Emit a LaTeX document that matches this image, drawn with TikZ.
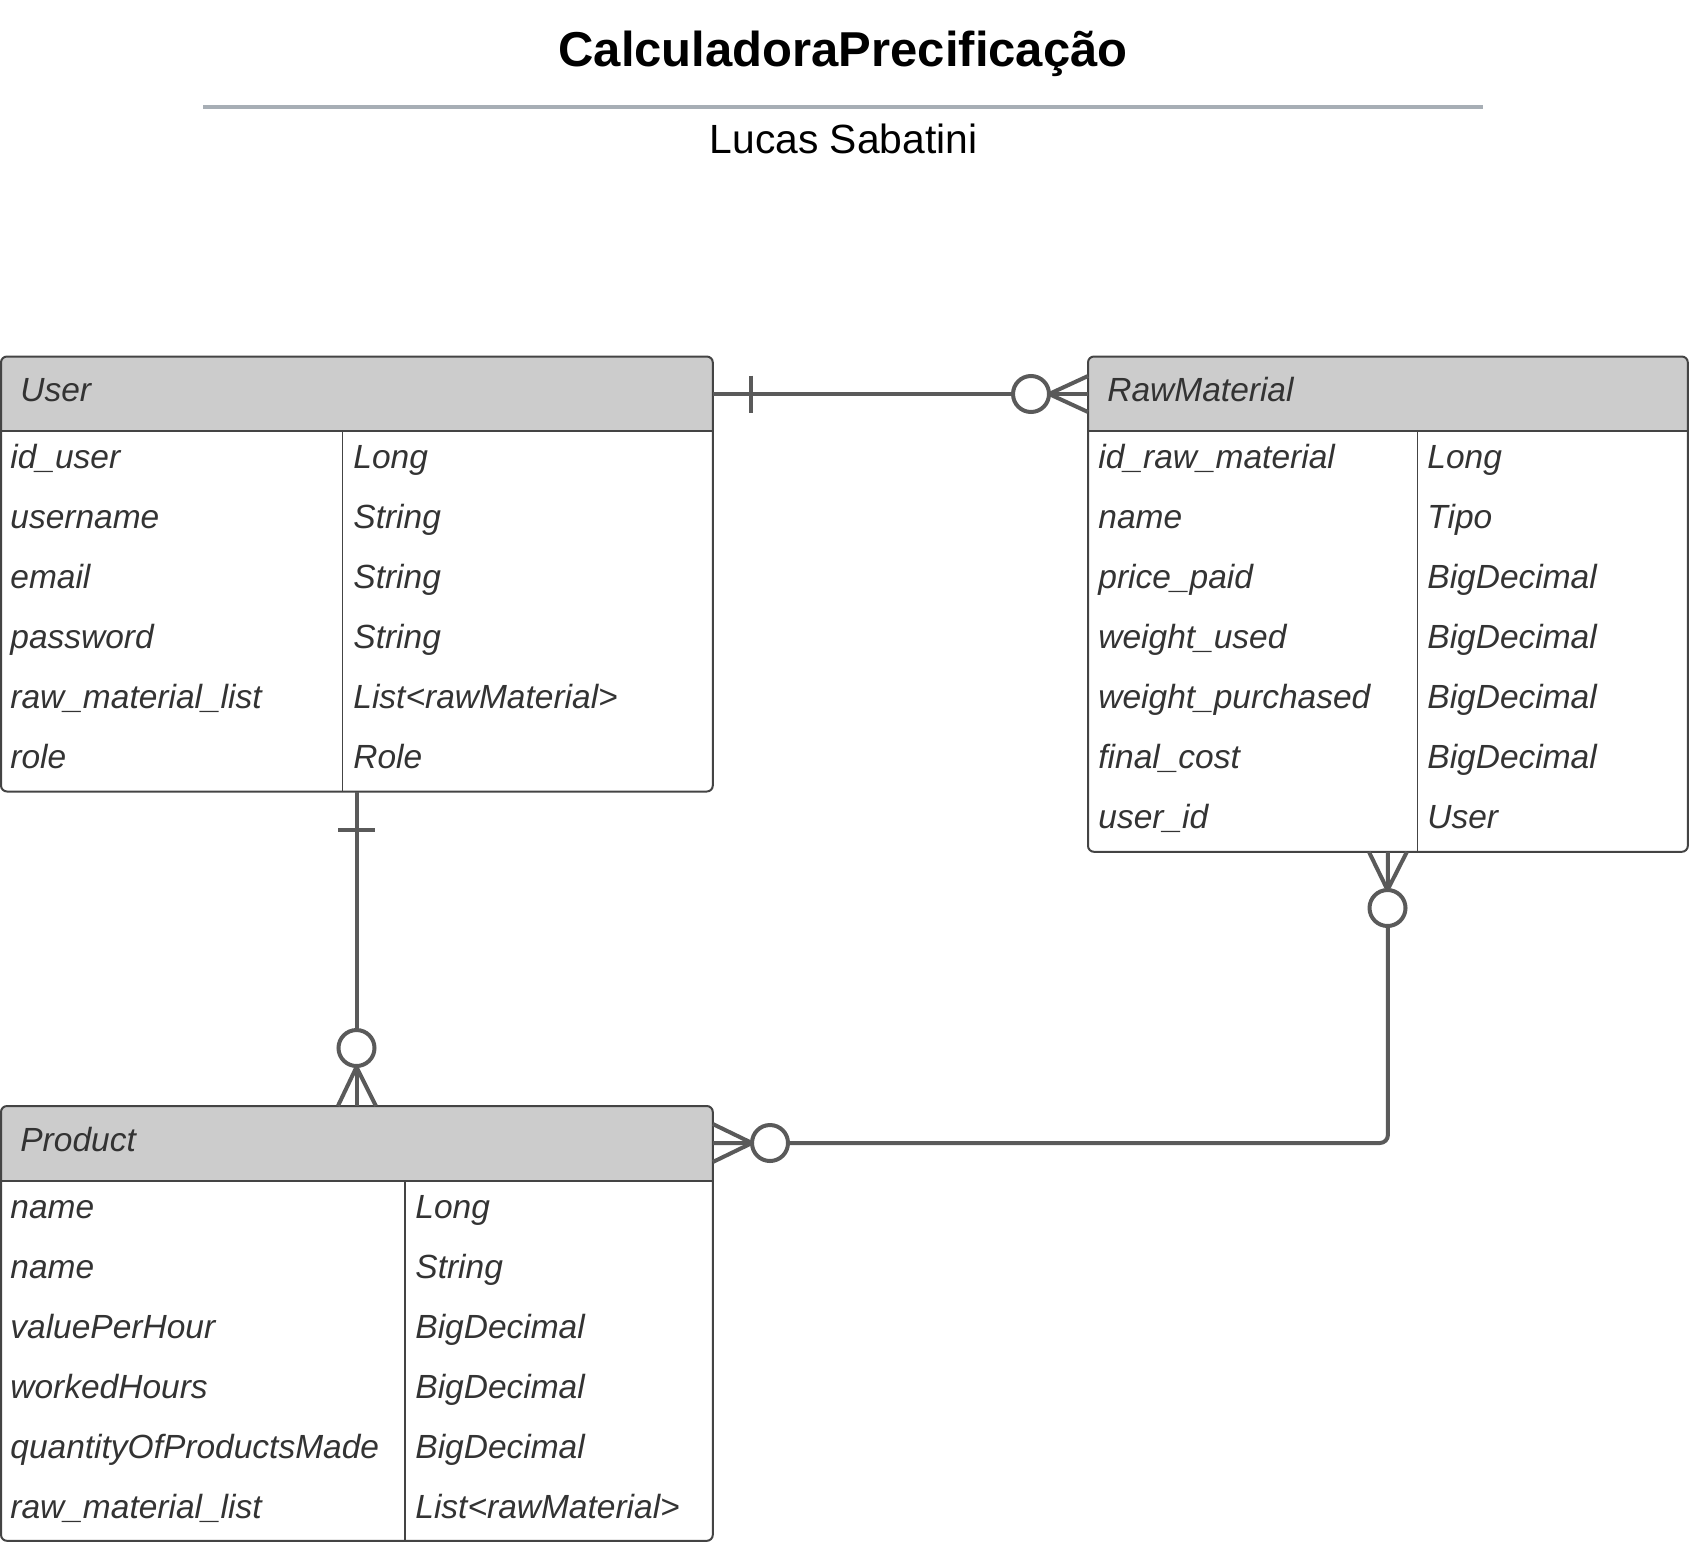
\documentclass[tikz,border=0pt]{standalone}
\usepackage{fontspec}
\setmainfont{Liberation Sans}
\usetikzlibrary{calc}
\definecolor{connc}{HTML}{5A5A5A}
\definecolor{hdrc}{HTML}{CCCCCC}
\definecolor{txtc}{HTML}{333333}
\definecolor{bordc}{HTML}{444444}
\definecolor{rulec}{HTML}{A7AEB5}
\begin{document}
\begin{tikzpicture}[x=0.5pt,y=-0.5pt,
  tblbox/.style={rectangle, inner sep=0pt, anchor=north west, draw=none},
  border/.style={draw=bordc, line width=1pt, rounded corners=3pt},
  sepline/.style={draw=bordc, line width=1pt},
  divline/.style={draw=bordc, line width=0.75pt},
  fld/.style={anchor=base west, inner sep=0pt, text=txtc, font=\fontsize{16.75pt}{20pt}\selectfont\itshape},
  cn/.style={draw=connc, line width=2pt, line join=round},
  endc/.style={draw=connc, line width=2pt, fill=white},
  titlestyle/.style={anchor=base, inner sep=0pt, font=\fontsize{24.5pt}{29pt}\selectfont\bfseries},
  substyle/.style={anchor=base, inner sep=0pt, font=\fontsize{20.4pt}{24pt}\selectfont}
]
\useasboundingbox (0,0) rectangle (1689,1541);

% title block
\node[titlestyle] (title) at (843,67) {CalculadoraPrecificação};
\draw[draw=rulec, line width=1.5pt] (203,107) -- (1483,107);
\node[substyle] (author) at (843.5,153.5) {Lucas Sabatini};

% ---------- User table ----------
\node[tblbox, minimum width=355.5pt, minimum height=217.1pt] (user) at (1,356.5) {};
\fill[hdrc, rounded corners=3pt] (user.north west) rectangle ($(user.north east)+(0,74.5)$);
\fill[hdrc] ($(user.north west)+(0,20)$) rectangle ($(user.north east)+(0,74.5)$);
\draw[sepline] ($(user.north west)+(0,74.5)$) -- ($(user.north east)+(0,74.5)$);
\draw[divline] (342.5,431) -- (342.5,0 |- user.south);
\draw[border] (user.north west) rectangle (user.south east);
\node[fld] (userh) at (20,401) {User};
\foreach \a/\b [count=\i from 0] in {id\_user/Long, username/String, email/String, password/String, raw\_material\_list/List<rawMaterial>, role/Role}{
  \node[fld] (ua\i) at (10,{468.5+60*\i}) {\a};
  \node[fld] (ub\i) at (353,{468.5+60*\i}) {\b};
}

% ---------- RawMaterial table ----------
\node[tblbox, minimum width=299.5pt, minimum height=247.25pt] (raw) at (1088,356.5) {};
\fill[hdrc, rounded corners=3pt] (raw.north west) rectangle ($(raw.north east)+(0,74.5)$);
\fill[hdrc] ($(raw.north west)+(0,20)$) rectangle ($(raw.north east)+(0,74.5)$);
\draw[sepline] ($(raw.north west)+(0,74.5)$) -- ($(raw.north east)+(0,74.5)$);
\draw[divline] (1417.6,431) -- (1417.6,0 |- raw.south);
\draw[border] (raw.north west) rectangle (raw.south east);
\node[fld] (rawh) at (1107,401) {RawMaterial};
\foreach \a/\b [count=\i from 0] in {id\_raw\_material/Long, name/Tipo, price\_paid/BigDecimal, weight\_used/BigDecimal, weight\_purchased/BigDecimal, final\_cost/BigDecimal, user\_id/User}{
  \node[fld] (ra\i) at (1098,{468.5+60*\i}) {\a};
  \node[fld] (rb\i) at (1427,{468.5+60*\i}) {\b};
}

% ---------- Product table ----------
\node[tblbox, minimum width=355.5pt, minimum height=217pt] (product) at (1,1106) {};
\fill[hdrc, rounded corners=3pt] (product.north west) rectangle ($(product.north east)+(0,74.5)$);
\fill[hdrc] ($(product.north west)+(0,20)$) rectangle ($(product.north east)+(0,74.5)$);
\draw[sepline] ($(product.north west)+(0,74.5)$) -- ($(product.north east)+(0,74.5)$);
\draw[divline] (405,1180.5) -- (405,0 |- product.south);
\draw[border] (product.north west) rectangle (product.south east);
\node[fld] (producth) at (20,1151) {Product};
\foreach \a/\b [count=\i from 0] in {name/Long, name/String, valuePerHour/BigDecimal, workedHours/BigDecimal, quantityOfProductsMade/BigDecimal, raw\_material\_list/List<rawMaterial>}{
  \node[fld] (pa\i) at (10,{1218+60*\i}) {\a};
  \node[fld] (pb\i) at (415,{1218+60*\i}) {\b};
}

% ---------- Connector User -- RawMaterial ----------
\coordinate (c1s) at (user.east |- 0,394);
\coordinate (c1e) at (raw.west |- 0,394);
\draw[cn] (c1s) -- (c1e);
\draw[cn] (751,375.5) -- (751,412.5);
\draw[endc] (1031,394) circle[radius=9pt];
\draw[cn] ($(c1e)+(0,-18)$) -- (1049,394) -- ($(c1e)+(0,18)$);

% ---------- Connector User -- Product ----------
\draw[cn] (user.south) -- (product.north);
\draw[cn] (338,829.5) -- (375,829.5);
\draw[endc] (356.5,1048) circle[radius=9pt];
\draw[cn] ($(product.north)+(-19,0)$) -- (356.5,1067) -- ($(product.north)+(19,0)$);

% ---------- Connector RawMaterial -- Product ----------
\coordinate (c3e) at (product.east |- 0,1143);
\draw[cn, rounded corners=4pt] (raw.south) |- (c3e);
\draw[cn] ($(raw.south)+(-19,0)$) -- (1387.5,890) -- ($(raw.south)+(19,0)$);
\draw[endc] (1387.5,908) circle[radius=9pt];
\draw[endc] (770,1143) circle[radius=9pt];
\draw[cn] ($(c3e)+(0,-19)$) -- (752,1143) -- ($(c3e)+(0,19)$);
\end{tikzpicture}
\end{document}
